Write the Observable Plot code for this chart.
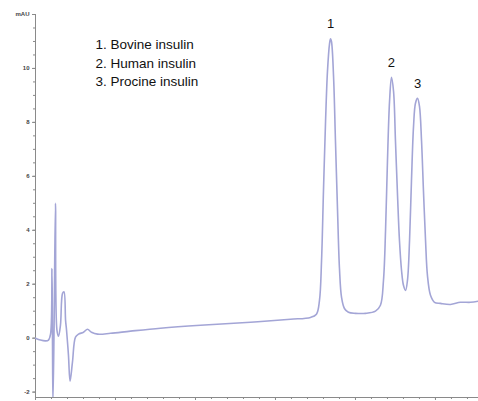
<!DOCTYPE html>
<html>
<head>
<meta charset="utf-8">
<script src="https://cdn.jsdelivr.net/npm/d3@7"></script>
<script src="https://cdn.jsdelivr.net/npm/@observablehq/plot@0.6"></script>
<style>
  html, body { margin: 0; padding: 0; background: #fff; }
  #chart { width: 478px; height: 401px; }
  svg { display: block; }
</style>
</head>
<body>
<div id="chart"></div>
<script>
// Retention time (min) and absorbance (mAU)
const time = [0, 0.31, 0.63, 0.81, 0.94, 1.03, 1.06, 1.09, 1.16, 1.25, 1.34, 1.44, 1.56, 1.69, 1.78, 1.88, 1.94, 2.06, 2.16, 2.31, 2.5, 2.69, 3.0, 3.25, 3.5, 3.88, 4.69, 5.94, 7.81, 10.31, 13.44, 15.94, 17.19, 17.56, 17.75, 17.88, 18.0, 18.13, 18.25, 18.38, 18.44, 18.5, 18.63, 18.75, 18.88, 19.0, 19.13, 19.31, 19.56, 20.0, 20.63, 21.25, 21.56, 21.75, 21.88, 22.0, 22.13, 22.25, 22.38, 22.5, 22.63, 22.75, 22.88, 23.0, 23.13, 23.25, 23.38, 23.5, 23.63, 23.75, 23.88, 24.0, 24.13, 24.25, 24.38, 24.5, 24.69, 24.94, 25.31, 25.94, 26.56, 27.19, 27.69];
const absorbance = [0, -0.07, -0.1, -0.07, 0.15, 2.58, 0.1, -2.4, 0.3, 5.0, 0.3, 0.07, 0.48, 1.66, 1.72, 0.66, 0.3, -0.63, -1.6, -0.89, 0.04, 0.15, 0.22, 0.33, 0.22, 0.15, 0.18, 0.26, 0.37, 0.48, 0.59, 0.7, 0.77, 0.89, 1.4, 2.88, 5.46, 8.04, 9.89, 10.92, 11.1, 11.0, 9.7, 7.3, 4.72, 2.58, 1.51, 1.1, 0.96, 0.92, 0.92, 1.0, 1.22, 2.14, 3.99, 6.57, 8.78, 9.67, 9.15, 7.31, 5.28, 3.62, 2.51, 1.96, 1.77, 2.14, 3.62, 5.83, 7.86, 8.71, 8.89, 8.6, 7.31, 5.46, 3.62, 2.32, 1.59, 1.33, 1.29, 1.25, 1.33, 1.33, 1.37];

// Peak labels
const peakLabels = ["1", "2", "3"];
const peakTimes = [18.44, 22.25, 23.88];
const peakHeights = [11.1, 9.67, 8.89];

// Legend entries
const legendLines = ["1. Bovine insulin", "2. Human insulin", "3. Procine insulin"];

// Axis ticks
const yTicks = [-2, 0, 2, 4, 6, 8, 10, 12];
const yTickLabels = ["-2", "0", "2", "4", "6", "8", "10", "mAU"];
const yMinorTicks = [-2, -1.5, -1, -0.5, 0, 0.5, 1, 1.5, 2, 2.5, 3, 3.5, 4, 4.5, 5, 5.5, 6, 6.5, 7, 7.5, 8, 8.5, 9, 9.5, 10, 10.5, 11, 11.5, 12];
const xTicks = [0, 5, 10, 15, 20, 25];
const xMinorTicks = [0, 1, 2, 3, 4, 5, 6, 7, 8, 9, 10, 11, 12, 13, 14, 15, 16, 17, 18, 19, 20, 21, 22, 23, 24, 25, 26, 27];

const trace = time.map((t, i) => ({t, v: absorbance[i]}));
const peaks = peakLabels.map((l, i) => ({label: l, t: peakTimes[i], v: peakHeights[i]}));

const axisColor = "#8a8a8a";
const lineColor = "#a3a5d6";

const chart = Plot.plot({
  width: 478,
  height: 401,
  marginLeft: 35,
  marginRight: 0,
  marginTop: 14,
  marginBottom: 4,
  style: {fontFamily: "Liberation Sans, Arial, sans-serif", background: "#fff"},
  x: {domain: [0, 27.69]},
  y: {domain: [-2.2, 12]},
  marks: [
    Plot.axisY({ticks: yMinorTicks, tickSize: 2, text: null, stroke: axisColor, label: null}),
    Plot.axisY({ticks: yTicks, tickSize: 3, tickPadding: 3,
      tickFormat: d => yTickLabels[yTicks.indexOf(d)],
      fontSize: 6, fontWeight: "bold", fill: "#444", stroke: axisColor, label: null}),
    Plot.axisX({ticks: xMinorTicks, tickSize: 2, text: null, stroke: axisColor, label: null}),
    Plot.axisX({ticks: xTicks, tickSize: 3, text: null, stroke: axisColor, label: null}),
    Plot.ruleX([0], {stroke: axisColor, strokeWidth: 1}),
    Plot.ruleY([-2.2], {stroke: axisColor, strokeWidth: 1}),
    Plot.line(trace, {x: "t", y: "v", stroke: lineColor, strokeWidth: 1.6, curve: "catmull-rom", clip: true}),
    Plot.text(peaks, {x: "t", y: "v", text: "label", dy: -15, fontSize: 13, fill: "#111"}),
    Plot.text([legendLines.join("\n")], {text: d => d, frameAnchor: "top-left", lineAnchor: "top", dx: 60, dy: 22, lineHeight: 1.35, fontSize: 13.5, fill: "#111", textAnchor: "start"})
  ]
});
document.getElementById("chart").appendChild(chart);
</script>
</body>
</html>
